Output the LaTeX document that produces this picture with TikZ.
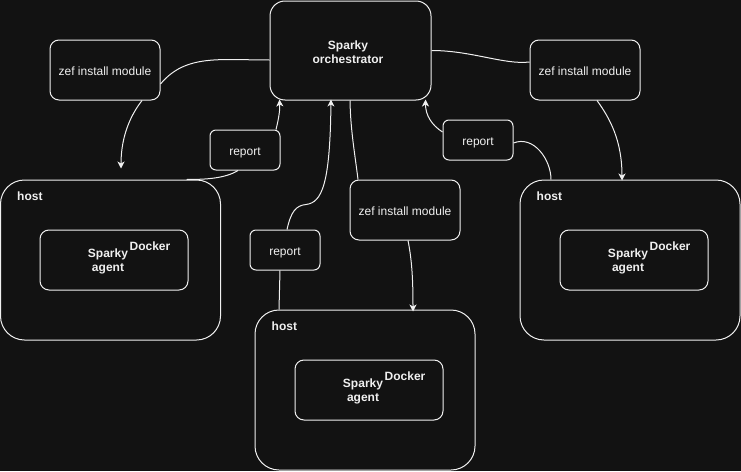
\documentclass[tikz,border=0pt]{standalone}
\usepackage{fontspec}
\setmainfont{Liberation Sans}
\usetikzlibrary{calc,arrows.meta}
\definecolor{bgc}{HTML}{121212}
\definecolor{fgc}{HTML}{F0F0F0}
\begin{document}
\begin{tikzpicture}[x=1pt,y=-1pt,
  every node/.style={font=\fontsize{12}{14}\selectfont, text=fgc, inner sep=0pt},
  rbox/.style={draw=fgc, line width=1pt, fill=bgc, align=center},
  zefbox/.style={rbox, minimum width=110pt, minimum height=60pt, rounded corners=9pt, text height=12pt, text depth=2pt},
  repbox/.style={rbox, minimum width=70pt, minimum height=40pt, rounded corners=6pt, text height=12pt, text depth=2pt},
  hostbox/.style={rbox, minimum width=220pt, minimum height=160pt, rounded corners=24pt},
  dockbox/.style={rbox, minimum width=148pt, minimum height=60pt, rounded corners=9pt},
  boldtxt/.style={font=\fontsize{12}{14}\selectfont\bfseries, align=center},
  conn/.style={draw=fgc, line width=1pt},
  arr/.style={conn, -{Stealth[length=7pt,width=7pt,inset=2pt]}}
]
\fill[bgc] (0,0) rectangle (741,471);
\useasboundingbox (0,0) rectangle (741,471);

% orchestrator
\node[rbox, minimum width=161pt, minimum height=99pt, rounded corners=15pt] (orch) at (350.5,50.5) {};
\node[boldtxt] (orchtxt) at (348,52) {Sparky\\orchestrator};

% zef boxes
\node[zefbox] (zefL) at (105,70) {zef install module};
\node[zefbox] (zefR) at (585,70) {zef install module};
\node[zefbox] (zefM) at (405,210) {zef install module};

% report boxes
\node[repbox] (repL) at (245,150) {report};
\node[repbox] (repR) at (478,140) {report};
\node[repbox] (repM) at (285,250) {report};

% hosts
\node[hostbox] (hostL) at (110.5,260) {};
\node[hostbox] (hostR) at (630,260) {};
\node[hostbox] (hostB) at (365,390) {};
\node[boldtxt, anchor=west] (hostLt) at ($(hostL.north west)+(17,17)$) {host};
\node[boldtxt, anchor=west] (hostRt) at ($(hostR.north west)+(17,17)$) {host};
\node[boldtxt, anchor=west] (hostBt) at ($(hostB.north west)+(17,17)$) {host};

% docker boxes
\node[dockbox] (dockL) at (114,260) {};
\node[dockbox] (dockR) at (634,260) {};
\node[dockbox] (dockB) at (369,390) {};
\foreach \d in {dockL,dockR,dockB}{
  \node[boldtxt] (\d agent) at ($(\d.center)+(-6,1)$) {Sparky\\agent};
  \node[boldtxt] (\d label) at ($(\d.center)+(36,-13.5)$) {Docker};
}

% free ends
\coordinate (tipL) at ($(hostL.north)+(10.5,-11)$);

% connectors left
\draw[conn] ($(orch.west)+(0,9.5)$) .. controls ($(orch.west)+(-50,9.5)$) and ($(zefL.east)+(25,-16)$) .. ($(zefL.east)+(0,14)$);
\draw[arr] ($(zefL.south)+(37,0)$) .. controls ($(zefL.south)+(23,18)$) and ($(zefL.south)+(16,40)$) .. (tipL);
\draw[conn] ($(repL.south)+(-7,0)$) .. controls ($(repL.south)+(-20,8)$) and ($(hostL.north)+(95,0)$) .. ($(hostL.north)+(76,0)$);
\draw[arr] ($(repL.north)+(31,0)$) .. controls ($(repL.north)+(34,-12)$) and ($(repL.north)+(35,-20)$) .. ($(orch.south west)+(10,-1)$);

% connectors middle
\draw[arr] ($(repM.north)+(2,0)$) .. controls ($(repM.north)+(6,-18)$) and ($(repM.north)+(11,-24)$) .. ($(repM.north)+(21,-25)$)
  .. controls ($(repM.north)+(37,-27)$) and ($(repM.north)+(45,-45)$) .. ($(orch.south)+(-19.5,-1)$);
\draw[conn] ($(repM.south)+(-5,0)$) -- ($(hostB.north)+(-86,0)$);
\draw[conn] ($(orch.south)+(-0.5,0)$) .. controls ($(orch.south)+(0,30)$) and ($(zefM.north)+(-50,-25)$) .. ($(zefM.north)+(-47,0)$);
\draw[arr] ($(zefM.south)+(3,0)$) .. controls ($(zefM.south)+(7,20)$) and ($(zefM.south)+(8,40)$) .. ($(hostB.north)+(48,2)$);

% connectors right
\draw[conn] (orch.east) .. controls ($(orch.east)+(40,0)$) and ($(zefR.west)+(-25,-5)$) .. ($(zefR.west)+(0,-8)$);
\draw[arr] ($(zefR.south)+(12,0)$) .. controls ($(zefR.south)+(25,18)$) and ($(zefR.south)+(37,40)$) .. ($(hostR.north)+(-8,1)$);
\draw[conn] ($(hostR.north)+(-79,0)$) .. controls ($(hostR.north)+(-79,-20)$) and ($(repR.east)+(20,-5)$) .. ($(repR.east)+(0,3)$);
\draw[arr] ($(repR.west)+(0,-8)$) .. controls ($(repR.west)+(-11,-15)$) and ($(repR.west)+(-17,-25)$) .. ($(orch.south east)+(-6,-1)$);
\end{tikzpicture}
\end{document}
